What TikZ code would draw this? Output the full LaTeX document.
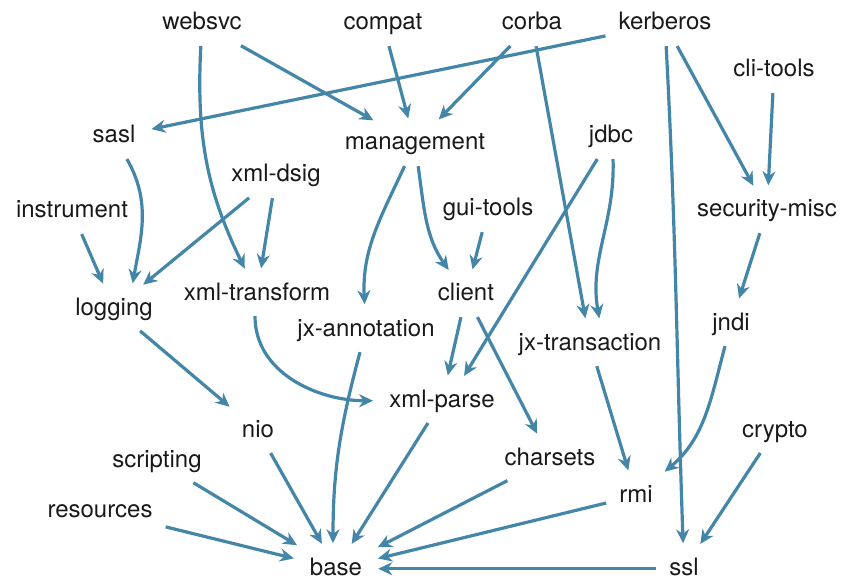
\documentclass[tikz,border=0pt]{standalone}
\usepackage{fontspec}
\setmainfont{TeX Gyre Heros}
\usetikzlibrary{arrows.meta}
\definecolor{edgeblue}{RGB}{68,134,168}
\definecolor{labelink}{RGB}{25,25,25}
\begin{document}
\begin{tikzpicture}[x=1pt,y=1pt,
  pkg/.style={anchor=base, inner xsep=12pt, inner ysep=10pt,
    text height=17.5pt, text depth=5pt, text=labelink,
    font=\fontsize{24}{28}\selectfont},
  dep/.style={draw=edgeblue, line width=3.2pt,
    -{Stealth[length=14pt,width=13pt,inset=4.5pt]},
    shorten >=4pt, shorten <=1pt}]
\useasboundingbox (0,0) rectangle (841,-580);

% packages (placed at their baselines)
\node[pkg] (websvc)     at (202,-30)  {websvc};
\node[pkg] (compat)     at (383,-30)  {compat};
\node[pkg] (corba)      at (532,-30)  {corba};
\node[pkg] (kerberos)   at (665,-30)  {kerberos};
\node[pkg] (clitools)   at (774,-77)  {cli-tools};
\node[pkg] (sasl)       at (114,-143) {sasl};
\node[pkg] (management) at (415,-150) {management};
\node[pkg] (jdbc)       at (611,-143) {jdbc};
\node[pkg] (xmldsig)    at (276,-182) {xml-dsig};
\node[pkg] (instrument) at (72,-218)  {instrument};
\node[pkg] (guitools)   at (488,-216) {gui-tools};
\node[pkg] (secmisc)    at (767,-217) {security-misc};
\node[pkg] (logging)    at (114,-315) {logging};
\node[pkg] (xmltrans)   at (257,-300) {xml-transform};
\node[pkg] (client)     at (466,-301) {client};
\node[pkg] (jxannot)    at (366,-336) {jx-annotation};
\node[pkg] (jxtrans)    at (590,-350) {jx-transaction};
\node[pkg] (jndi)       at (731,-330) {jndi};
\node[pkg] (xmlparse)   at (442,-407) {xml-parse};
\node[pkg] (nio)        at (258,-437) {nio};
\node[pkg] (crypto)     at (775,-437) {crypto};
\node[pkg] (scripting)  at (157,-467) {scripting};
\node[pkg] (charsets)   at (550,-465) {charsets};
\node[pkg] (resources)  at (100,-517) {resources};
\node[pkg] (rmi)        at (636,-502) {rmi};
\node[pkg] (base)       at (336,-575) {base};
\node[pkg] (ssl)        at (684,-575) {ssl};

% dependencies
\draw[dep] (websvc) to[out=-93,in=116] (xmltrans);
\draw[dep] (websvc) -- (management);
\draw[dep] (compat) -- (management);
\draw[dep] (corba) -- (management);
\draw[dep] (corba) -- (jxtrans);
\draw[dep] (kerberos) -- (sasl);
\draw[dep] (kerberos) to[out=-87,in=92] (ssl);
\draw[dep] (kerberos) -- (secmisc);
\draw[dep] (clitools) -- (secmisc);
\draw[dep] (sasl) to[out=-60,in=80] ([xshift=18pt]logging.north);
\draw[dep] (xmldsig) -- (logging);
\draw[dep] (xmldsig) -- (xmltrans);
\draw[dep] (instrument) -- (logging);
\draw[dep] (management) to[out=-115,in=93] (jxannot);
\draw[dep] (management) to[out=-82,in=125] (client);
\draw[dep] (guitools) -- (client);
\draw[dep] (jdbc) -- ([xshift=20pt]xmlparse.north);
\draw[dep] ([xshift=2pt]jdbc.south) to[out=-88,in=100] ([xshift=10pt]jxtrans.north);
\draw[dep] (secmisc) -- (jndi);
\draw[dep] (logging) -- (nio);
\draw[dep] ([xshift=-2pt]xmltrans.south) to[out=-90,in=180] (xmlparse.west);
\draw[dep] (client) -- (xmlparse);
\draw[dep] (client) -- (charsets);
\draw[dep] (jxannot) to[out=-105,in=90] ([xshift=-3pt]base.north);
\draw[dep] (jxtrans) -- (rmi);
\draw[dep] (jndi) to[out=-105,in=40] (rmi);
\draw[dep] (xmlparse) -- (base);
\draw[dep] (nio) -- (base);
\draw[dep] (scripting) -- (base);
\draw[dep] (resources) -- (base);
\draw[dep] (charsets) -- (base);
\draw[dep] (rmi) -- (base);
\draw[dep] (ssl) -- (base);
\draw[dep] (crypto) -- (ssl);
\end{tikzpicture}
\end{document}
